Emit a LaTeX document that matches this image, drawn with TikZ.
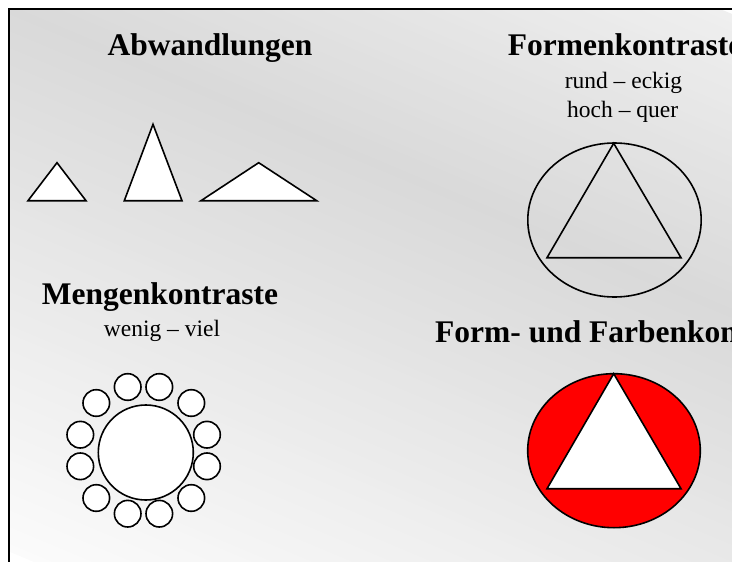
\documentclass[tikz,border=0pt]{standalone}
\usepackage{fontspec}
\setmainfont{Liberation Serif}
\definecolor{bgA}{HTML}{FBFBFB}
\definecolor{bgB}{HTML}{D9D9D9}
\definecolor{bgC}{HTML}{EFEFEF}
\tikzset{
  titletext/.style={font=\bfseries\fontsize{31.5}{37}\selectfont, inner sep=0pt, anchor=base},
  subtext/.style={font=\fontsize{23.5}{28}\selectfont, inner sep=0pt, anchor=base},
  outline/.style={draw=black, line width=1.6pt},
  whiteshape/.style={outline, fill=white},
}
\begin{document}
\begin{tikzpicture}[x=1pt,y=-1pt]
\useasboundingbox (0,0) rectangle (732,562);
% background gradient
\begin{scope}
\clip (9.5,9.5) rectangle (732,562);
\foreach \i in {0,...,99}{
  \pgfmathsetmacro\ta{-505+\i*7.75}
  \pgfmathsetmacro\tb{\ta+8.5}
  \pgfmathsetmacro\f{(\i+0.5)/100}
  \ifdim\f pt<0.645pt
    \pgfmathsetmacro\p{\f/0.645*100}
    \colorlet{stripc}{bgB!\p!bgA}
  \else
    \pgfmathsetmacro\p{(\f-0.645)/0.355*100}
    \colorlet{stripc}{bgC!\p!bgB}
  \fi
  \fill[stripc] ({\ta*0.3874-921.8},{-\ta*0.9218-387.4}) -- ({\ta*0.3874+921.8},{-\ta*0.9218+387.4}) -- ({\tb*0.3874+921.8},{-\tb*0.9218+387.4}) -- ({\tb*0.3874-921.8},{-\tb*0.9218-387.4}) -- cycle;
}
\end{scope}
% frame
\draw[line width=2pt] (8.5,570) -- (8.5,8.5) -- (740,8.5);

% Abwandlungen
\node[titletext] (abw) at (210,55) {Abwandlungen};
\draw[whiteshape] (28,200.7) -- (57,162.7) -- (86,200.7) -- cycle;
\draw[whiteshape] (124.3,200.7) -- (153,124.3) -- (182,200.7) -- cycle;
\draw[whiteshape] (201,200.7) -- (258.7,162.7) -- (316.7,200.7) -- cycle;

% Formenkontraste
\node[titletext, anchor=base west] (form) at (507.7,55) {Formenkontraste};
\node[subtext] (rund) at (623.5,88) {rund – eckig};
\node[subtext] (hoch) at (622.7,117) {hoch – quer};
\draw[outline] (614.5,220) ellipse [x radius=86.7, y radius=77];
\draw[outline] (613.7,143.3) -- (547,257.7) -- (681,257.7) -- cycle;

% Mengenkontraste
\node[titletext] (menge) at (160,304.3) {Mengenkontraste};
\node[subtext] (wenig) at (162,336) {wenig – viel};
\draw[whiteshape] (145.8,452.5) circle [radius=47.5];
\foreach \cx/\cy in {127.7/387, 159.3/387, 96.3/403, 191.3/403, 80.3/434.7, 207/434.7,
                     80.3/466.3, 207/466.3, 96.3/498, 191.3/498, 127.7/513.7, 159.3/513.7}{
  \draw[whiteshape] (\cx,\cy) circle [radius=13.3];
}

% Form- und Farbenkontraste
\node[titletext, anchor=base west] (farbe) at (435,342.7) {Form- und Farbenkontraste};
\draw[outline, fill=red] (614,450.7) ellipse [x radius=86.3, y radius=77];
\draw[whiteshape] (613.7,373.7) -- (547,488.7) -- (681,488.7) -- cycle;
\end{tikzpicture}
\end{document}
